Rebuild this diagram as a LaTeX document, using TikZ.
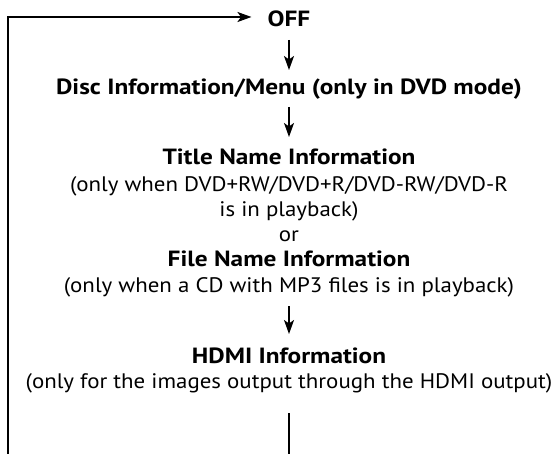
\documentclass[tikz,border=0pt]{standalone}
\usepackage{fontspec}
\setmainfont{PT Sans}
\newfontfamily\regf{PT Sans}[FakeStretch=1.09]
\newfontfamily\bolf{PT Sans}[FakeStretch=1.15]
\usetikzlibrary{arrows.meta}
\begin{document}
\begin{tikzpicture}[x=1pt,y=-1pt,
  txt/.style={anchor=base,inner sep=0pt,font=\regf\fontsize{21}{25}\selectfont},
  btxt/.style={anchor=base,inner sep=0pt,font=\bolf\bfseries\fontsize{22}{25}\selectfont},
  arr/.style={line width=1.8pt,-{Stealth[length=14pt,width=10pt,inset=3.5pt]}},
  ln/.style={line width=1.8pt}]
\useasboundingbox (0,0) rectangle (554,454);
\node[btxt] (off) at (289,27) {OFF};
\node[btxt] (disc) at (289,95) {Disc Information/Menu (only in DVD mode)};
\node[btxt] (title) at (289,165) {Title Name Information};
\node[txt] (title2) at (289,192) {(only when DVD+RW/DVD+R/DVD-RW/DVD-R};
\node[txt] (title3) at (289,217) {is in playback)};
\node[txt] (or) at (289,242) {or};
\node[btxt] (file) at (289,267) {File Name Information};
\node[txt] (file2) at (289,292) {(only when a CD with MP3 files is in playback)};
\node[btxt] (hdmi) at (289,363) {HDMI Information};
\node[txt] (hdmi2) at (289,388) {(only for the images output through the HDMI output)};
\coordinate (bot) at (289,455);
\coordinate (botl) at (8,455);
\coordinate (topl) at (8,17);
\draw[arr] ([yshift=-13pt]off.base) -- ([yshift=25pt]disc.base);
\draw[arr] ([yshift=-12pt]disc.base) -- ([yshift=28pt]title.base);
\draw[arr] ([yshift=-14pt]file2.base) -- ([yshift=29pt]hdmi.base);
\draw[ln] ([yshift=-25pt]hdmi2.base) -- (bot);
\draw[arr] (botl) -- (topl) -- ([xshift=-16pt,yshift=10pt]off.base west);
\end{tikzpicture}
\end{document}
